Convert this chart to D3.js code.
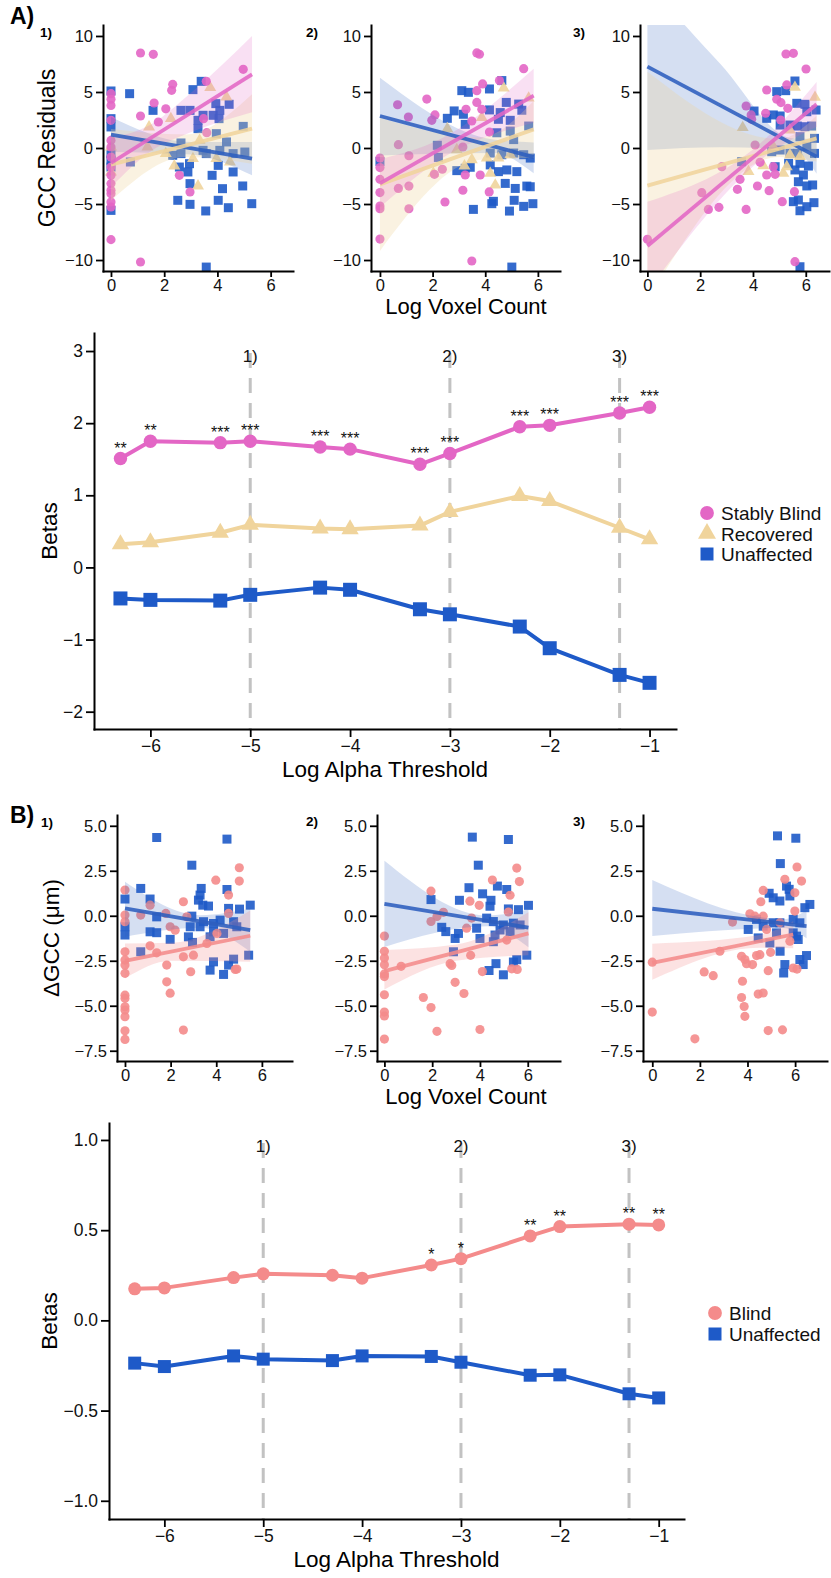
<!DOCTYPE html>
<html>
<head>
<meta charset="utf-8">
<script src="https://cdn.jsdelivr.net/npm/d3@7"></script>
<style>
  body { margin: 0; background: #fff; }
  svg { display: block; font-family: "Liberation Sans", Arial, Helvetica, sans-serif; }
</style>
</head>
<body>
<svg id="fig" width="831" height="1578"></svg>
<script>
const PINK = "#E366C5", TAN = "#F0D49C", BLUE = "#1E5AC8", SALMON = "#F48B8B";

// ---------- A) scatter panels : [log voxel count, GCC residual]
const a1Blind = [[0,4.85],[0,4.35],[0,3.8],[0,2.47],[0,0.68],[0,0.09],[0,-0.8],[0,-1.7],[0,-2.44],[0,-3.18],[0,-3.78],[0,-4.08],[0,-4.82],[0,-5.27],[0,-8.18],
  [1.11,8.48],[1.59,8.36],[4.97,7.02],[2.32,5.68],[2.28,5.15],[3.58,5.95],[1.62,4.02],[2.06,3.5],[1.11,2.86],[1.78,2.32],[3.48,2.62],[3.6,1.37],[1.11,-10.18],[2.57,-2.44],[2.97,-3.93]];
const a1Recov = [[3.73,5.39],[4.34,4.55],[1.43,1.88],[2.25,2.62],[0,0.09],[0,-2.14],[1.37,0.09],[2.38,-1.6],[3.27,-3.39],[3.08,-0.95],[3.96,-0.95],[4.47,-1.25],[3.33,0.68],[2.06,-0.5]];
const a1Unaff = [[0,5.09],[0.7,4.85],[0,2.62],[0,1.88],[0,-0.5],[0,-1.1],[0,-1.7],[0,-5.57],[0.73,-1.25],[3.39,5.95],[3.08,5.21],[1.58,3.36],[2.63,3.36],[2.97,3.36],[3.27,2.47],[3.27,1.73],[3.94,3.96],[4.44,3.9],[4.09,3.36],[4.06,2.62],[3.84,2.92],[3.46,2.92],[4.97,1.93],[3.96,1.28],[4.34,0.54],[2.63,0.45],[2.32,-0.65],[2.63,-0.5],[3.46,-0.21],[3.58,-0.5],[4.09,-0.21],[4.59,-0.5],[5.03,-0.36],[2.57,-1.7],[2.89,-2.14],[2.95,-1.4],[4.03,-1.55],[4.59,-2.14],[3.8,-2.44],[2.97,-3.18],[4.95,-3.39],[4.19,-3.63],[2.51,-4.67],[2.97,-5.03],[4.03,-4.67],[4.41,-5.33],[5.29,-4.97],[3.56,-5.62],[3.58,-10.63]];

const a2Blind = [[3.68,8.49],[3.78,8.37],[5.46,7.08],[4.54,6.02],[3.9,5.72],[3.68,5.12],[3.68,4.07],[1.78,4.37],[0.67,3.86],[1.08,2.77],[2.09,2.95],[1.97,2.47],[3.27,3.46],[3.87,3.46],[3.49,2.41],[0.7,0.3],[1.1,-0.69],[0,-0.9],[0,-1.75],[0,-2.8],[0,-3.98],[0,-5.18],[0,-5.42],[0,-8.13],[0.7,-3.61],[1.1,-3.4],[1.1,-5.42],[2.37,-1.9],[2.07,-2.35],[2.47,-4.82],[3.15,-3.77],[3.24,-2.41],[3.81,-2.41],[4.15,-3.92],[4.16,1.42],[3.49,-10.09],[3.15,0.09]];
const a2Recov = [[4.7,5.36],[5.65,4.46],[2.56,1.72],[3.87,2.71],[2.03,-2.26],[3.21,-1.6],[4.19,-2.26],[4.38,-3.31],[3.49,-1.05],[4.06,-0.9],[4.5,-0.9],[4.95,-0.6],[2.92,-0.15]];
const a2Unaff = [[0,-1.2],[4.63,6.02],[3.11,5.12],[3.36,4.97],[4.16,5.27],[2.56,2.65],[2.82,3.31],[3.17,3.01],[4.16,3.4],[4.8,4.07],[5.27,3.92],[5.39,3.37],[4.57,3.16],[4.5,2.56],[4.95,2.47],[5.65,1.96],[3.24,2.11],[4.95,1.51],[4.44,1.36],[5.08,0.75],[2.18,0.24],[2.22,-0.84],[2.92,-2.02],[3.24,-1.81],[3.43,-1.72],[4.19,-0.45],[4.19,-1.51],[4.63,-0.6],[5.08,-0.45],[5.46,-0.6],[5.71,-0.9],[4.5,-2.11],[4.82,-1.96],[5.2,-2.11],[4.76,-3.16],[5.14,-3.61],[5.58,-3.4],[5.71,-3.46],[3.55,-5.48],[4.25,-4.97],[4.31,-4.76],[4.92,-5.63],[5.1,-4.67],[5.46,-5.21],[5.81,-4.97],[5.01,-10.63]];

const a3Blind = [[5.25,8.39],[5.53,8.45],[6.01,7.05],[4.52,5.18],[5.28,5.63],[4.9,4.35],[5.06,4.05],[5.32,3.54],[3.74,3.75],[3.93,2.95],[3.95,2.56],[4.48,3.1],[4.08,0.27],[5.05,2.5],[0,-8.15],[2.06,-3.99],[2.31,-5.48],[2.71,-5.3],[3.41,-3.69],[3.51,-2.8],[3.74,-5.48],[4.17,-3.39],[4.61,-3.81],[5.11,-4.79],[5.57,-3.9],[4.27,-1.28],[4.52,-2.41],[4.84,-2.35],[4.77,-1.67],[5.59,-10.15],[2.82,-1.67]];
const a3Recov = [[5.59,5.42],[6.35,4.52],[3.61,1.82],[3.83,-2.11],[4.39,-1.58],[5.15,-2.26],[4.77,0.12],[5.4,-0.62],[5.78,-0.77],[5.28,-1.67],[5.4,1.6]];
const a3Unaff = [[5.24,5.12],[5.59,5.98],[4.9,5.03],[4.04,3.3],[4.52,2.65],[4.77,2.95],[5.03,2.86],[5.66,3.99],[5.97,3.9],[6.39,3.39],[6.04,3.24],[5.4,2.05],[5.68,1.96],[5.97,1.9],[6.22,1.96],[5.03,2.05],[6.33,0.86],[5.78,1.01],[4.71,-0.33],[5.03,-0.18],[5.4,-0.48],[5.68,-0.48],[6.04,0.12],[6.33,-0.48],[4.84,-1.67],[5.35,-1.37],[5.78,-1.37],[6.1,-1.61],[5.59,-1.96],[5.91,-2.41],[5.72,-3.01],[6.04,-3.39],[6.26,-3.3],[5.53,-4.79],[5.72,-4.64],[5.78,-5.6],[6.04,-5.24],[6.31,-4.88],[5.78,-10.6],[3.57,-1.22]];

// fitted lines [x,y] and confidence bands [x, lower, upper]
const a1BlindFit = [[0,-1.34],[5.3,6.58]];
const a1BlindBand = [[0,-3.5,0.9],[1.5,-0.3,2.1],[3,1.4,4.9],[5.3,3.2,10.0]];
const a1RecovFit = [[0,-1.49],[5.3,1.73]];
const a1RecovBand = [[0,-4.7,1.7],[2.8,-0.8,1.2],[5.3,-1.4,4.8]];
const a1UnaffFit = [[0,1.19],[5.3,-0.95]];
const a1UnaffBand = [[0,-0.36,2.77],[3,-0.57,0.53],[5.3,-2.44,0.54]];

const a2BlindFit = [[0,-3.16],[5.84,4.67]];
const a2BlindBand = [[0,-5.3,-1.0],[2.3,-1.0,0.8],[5.84,2.26,7.08]];
const a2RecovFit = [[0,-3.25],[5.84,1.66]];
const a2RecovBand = [[0,-9.2,2.7],[3.8,-1.06,0.94],[5.84,-0.9,4.2]];
const a2UnaffFit = [[0,2.86],[5.84,-0.81]];
const a2UnaffBand = [[0,-0.66,6.27],[4.3,-0.44,0.76],[5.84,-2.26,0.5]];

const a3BlindFit = [[0,-8.75],[6.41,3.9]];
const a3BlindBand = [[0,-12.8,-4.8],[4.5,-0.7,0.9],[6.41,1.9,5.9]];
const a3RecovFit = [[0,-3.36],[6.41,0.86]];
const a3RecovBand = [[0,-13.5,6.8],[5,-0.8,0.8],[6.41,-1.2,2.9]];
const a3UnaffFit = [[0,7.26],[6.41,-0.77]];
const a3UnaffBand = [[0,-0.18,14.7],[2.75,0.07,7.55],[5.5,-0.13,0.87],[6.41,-2.3,0.8]];

// ---------- B) scatter panels : [log voxel count, delta GCC]
const b1Blind = [[0,1.43],[0,0.04],[0,-0.33],[0,-2.0],[0,-2.46],[0,-2.74],[0,-3.2],[0,-4.41],[0,-4.59],[0,-5.06],[0,-5.24],[0,-5.61],[0,-6.39],[0,-6.87],[0.69,0.04],[1.1,0.59],[1.1,-1.67],[1.39,-2.06],[1.79,0.13],[1.83,-2.74],[1.83,-3.67],[1.98,-4.3],[1.98,-0.61],[2.2,-0.8],[2.56,0.78],[2.56,-2.28],[2.56,-6.35],[3.0,-2.19],[2.88,-3.11],[3.98,1.98],[4.54,1.15],[4.54,0.13],[5.01,2.67],[5.01,1.93],[4.83,-2.98],[4.9,-2.96],[3.59,-1.54],[4.03,-0.98],[2.71,-0.06]];
const b1Unaff = [[1.39,4.35],[4.47,4.26],[2.93,2.81],[0,0.93],[0,-0.61],[0,-1.07],[0.69,1.52],[1.1,0.93],[1.39,-0.06],[1.1,-0.89],[1.39,-0.94],[0.69,-2.0],[1.98,-1.31],[2.93,-0.02],[3.29,1.15],[3.34,1.52],[3.41,0.59],[3.22,0.87],[3.66,0.54],[4.47,1.46],[4.54,0.41],[5.02,0.37],[5.49,0.59],[5.42,-2.19],[2.86,-0.61],[2.78,-1.17],[2.96,-1.48],[3.44,-0.33],[3.88,-0.43],[4.17,-0.24],[4.76,-0.33],[4.9,-0.61],[4.32,-0.98],[3.73,-1.17],[3.88,-0.89],[3.73,-3.02],[3.88,-2.56],[4.32,-3.26],[4.54,-2.74],[4.76,-2.41],[3.29,-0.61]];

const b2Blind = [[0,-1.13],[0,-1.97],[0,-2.35],[0,-2.72],[0,-3.23],[0,-3.38],[0,-4.39],[0,-5.35],[0,-5.57],[0,-6.85],[0.7,-2.81],[1.95,1.37],[1.95,-0.32],[2.47,0.19],[2.2,-0.04],[1.63,-4.54],[1.95,-5.1],[2.2,-6.42],[2.75,-2.66],[2.82,-2.76],[2.96,-3.7],[3.33,-4.32],[4.0,-6.32],[3.58,0.81],[3.97,0.58],[3.65,-0.13],[3.61,-2.2],[4.1,-3.1],[4.52,1.99],[5.26,1.14],[5.19,0.21],[5.54,2.65],[5.65,1.9],[5.33,-2.95],[5.56,-2.98],[5.12,-1.35],[3.44,-0.69]];
const b2Unaff = [[3.68,4.37],[5.19,4.24],[3.93,2.81],[1.95,0.9],[3.14,0.86],[3.54,1.56],[4.11,1.22],[4.73,1.65],[5.12,1.46],[4.46,0.86],[4.42,0.53],[5.19,0.38],[5.61,0.34],[6.03,0.58],[5.96,-2.19],[5.54,-2.44],[4.28,-0.13],[4.56,-0.32],[4.98,-0.51],[5.4,-0.41],[5.68,-0.51],[4.84,-0.79],[5.26,-0.88],[2.4,-0.64],[2.57,-0.88],[2.96,-1.26],[2.89,-2.0],[3.1,-0.98],[3.86,-0.69],[4.0,-1.26],[4.56,-1.44],[4.63,-1.07],[4.38,-3.04],[4.67,-2.66],[4.98,-3.28],[5.4,-2.57]];

const b3Blind = [[0,-2.58],[0,-5.35],[1.79,-6.84],[2.18,-3.12],[2.56,-3.33],[2.84,-1.97],[3.37,-0.35],[3.75,-2.25],[3.89,-2.43],[3.96,-2.66],[4.21,-2.71],[3.79,-3.64],[3.75,-4.54],[3.86,-5.04],[3.89,-5.59],[4.38,-2.21],[4.52,-2.16],[4.45,-4.35],[4.66,-4.29],[4.87,-3.05],[4.97,-2.03],[4.87,-6.38],[5.47,-6.34],[4.1,0.11],[4.31,-0.02],[4.66,-0.02],[4.56,0.78],[4.66,1.41],[5.57,2.03],[5.99,1.28],[6.08,2.71],[6.27,1.93],[5.99,0.26],[5.78,-1.41],[5.92,-2.9],[6.08,-2.96],[4.8,-0.76],[5.36,-0.39]];
const b3Unaff = [[5.26,4.44],[6.03,4.31],[5.38,2.9],[4.91,1.25],[5.08,1.0],[5.36,0.82],[5.78,1.1],[5.64,1.65],[5.75,1.47],[6.62,0.63],[6.41,0.45],[4.03,-0.76],[4.38,-0.2],[4.66,-0.58],[5.08,-0.39],[5.36,-0.39],[5.92,-0.2],[6.2,-0.39],[5.22,-0.95],[5.92,-0.95],[6.06,-1.13],[6.13,-1.32],[5.37,-1.97],[5.57,-2.71],[5.52,-3.18],[6.2,-2.43],[6.48,-2.21],[6.34,-2.71],[4.45,-1.23],[4.94,-1.51]];

const b1BlindFit = [[0,-2.5],[5.49,-1.11]];
const b1BlindBand = [[0,-3.48,-1.54],[2,-2.5,-1.5],[5.49,-2.56,0.3]];
const b1UnaffFit = [[0,0.41],[5.49,-0.8]];
const b1UnaffBand = [[0,-1.17,1.89],[3.3,-0.67,0.03],[5.49,-2.0,0.4]];
const b2BlindFit = [[0,-3.08],[6.03,-0.98]];
const b2BlindBand = [[0,-4.1,-1.9],[3,-2.5,-1.6],[6.03,-2.2,0.2]];
const b2UnaffFit = [[0,0.66],[6.03,-0.66]];
const b2UnaffBand = [[0,-1.73,3.06],[4.3,-0.58,0.02],[6.03,-1.75,0.35]];
const b3BlindFit = [[0,-2.62],[5.92,-1.04]];
const b3BlindBand = [[0,-3.55,-1.55],[4.5,-1.77,-1.07],[5.92,-1.8,-0.3]];
const b3UnaffFit = [[0,0.39],[6.48,-0.58]];
const b3UnaffBand = [[0,-1.13,1.99],[5.5,-0.68,-0.18],[6.48,-1.25,0.3]];

// ---------- line charts
const alphaX = [-6.3,-6,-5.3,-5,-4.3,-4,-3.3,-3,-2.3,-2,-1.3,-1];
const betaStablyBlind = [1.51,1.75,1.73,1.75,1.67,1.64,1.43,1.58,1.95,1.97,2.14,2.22];
const betaRecovered = [0.32,0.35,0.48,0.59,0.54,0.53,0.58,0.77,0.99,0.92,0.55,0.39];
const betaUnaffectedA = [-0.43,-0.45,-0.46,-0.38,-0.28,-0.31,-0.58,-0.65,-0.82,-1.12,-1.49,-1.60];
const starsA = ["**","**","***","***","***","***","***","***","***","***","***","***"];
const betaBlind = [0.175,0.18,0.237,0.258,0.25,0.234,0.307,0.342,0.468,0.52,0.533,0.529];
const betaUnaffectedB = [-0.237,-0.256,-0.197,-0.215,-0.223,-0.197,-0.2,-0.232,-0.304,-0.302,-0.407,-0.43];
const starsB = ["","","","","","","*","*","**","**","**","**"];
const markerX = [-5,-3,-1.3];
const markerLabels = ["1)","2)","3)"];

const svg = d3.select("#fig");

function symbolPath(shape, size) {
  let t = d3.symbolCircle;
  if (shape == "square") t = d3.symbolSquare;
  if (shape == "triangle") t = d3.symbolTriangle;
  return d3.symbol().type(t).size(size)();
}

function styleAxis(sel, fs) {
  sel.attr("font-size", fs).attr("font-family", null);
  sel.select(".domain").attr("stroke", "#000").attr("stroke-width", 2).attr("stroke-linecap", "square");
  sel.selectAll(".tick line").attr("stroke", "#000").attr("stroke-width", 1.8);
  sel.selectAll(".tick text").attr("fill", "#111");
}

function scatterPanel(p) {
  let x = d3.scaleLinear().domain(p.xdom).range([p.left, p.right]);
  let y = d3.scaleLinear().domain(p.ydom).range([p.bottom, p.top]);

  svg.append("clipPath").attr("id", "clip" + p.id)
    .append("rect").attr("x", p.left).attr("y", p.top)
    .attr("width", p.right - p.left).attr("height", p.bottom - p.top);
  let g = svg.append("g").attr("clip-path", "url(#clip" + p.id + ")");

  p.groups.forEach(gr => {
    g.selectAll(null).data(gr.pts).join("path")
      .attr("transform", d => "translate(" + x(d[0]) + "," + y(d[1]) + ")")
      .attr("d", symbolPath(gr.shape, gr.size))
      .attr("fill", gr.color).attr("fill-opacity", 0.9);
  });

  // confidence bands then regression lines
  let area = d3.area().x(d => x(d[0])).y0(d => y(d[1])).y1(d => y(d[2])).curve(d3.curveMonotoneX);
  p.fits.forEach(f => {
    g.append("path").datum(f.band).attr("d", area)
      .attr("fill", f.color).attr("fill-opacity", f.alpha);
  });
  let line = d3.line().x(d => x(d[0])).y(d => y(d[1]));
  p.fits.forEach(f => {
    g.append("path").datum(f.line).attr("d", line)
      .attr("fill", "none").attr("stroke", f.color)
      .attr("stroke-width", 3.8).attr("stroke-opacity", 0.88);
  });

  svg.append("g").attr("transform", "translate(0," + p.bottom + ")")
    .call(d3.axisBottom(x).tickValues([0, 2, 4, 6]).tickFormat(d3.format("d"))
      .tickSize(6).tickSizeOuter(0).tickPadding(2))
    .call(s => styleAxis(s, 16.5));
  svg.append("g").attr("transform", "translate(" + p.left + ",0)")
    .call(d3.axisLeft(y).tickValues(p.yticks).tickFormat(p.yfmt)
      .tickSize(7).tickSizeOuter(0).tickPadding(3))
    .call(s => styleAxis(s, 16.5));

  svg.append("text").attr("x", p.tagX).attr("y", p.tagY)
    .attr("font-size", 13.5).attr("font-weight", "bold").text(p.tag);
}

function lineChart(c) {
  let x = d3.scaleLinear().domain(c.xdom).range([c.left, c.right]);
  let y = d3.scaleLinear().domain(c.ydom).range([c.bottom, c.top]);

  // threshold markers
  svg.append("g").selectAll("line").data(markerX).join("line")
    .attr("x1", d => x(d)).attr("x2", d => x(d))
    .attr("y1", c.dashTop).attr("y2", c.bottom)
    .attr("stroke", "#C2C2C2").attr("stroke-width", 3).attr("stroke-dasharray", "15,10");
  svg.append("g").selectAll("text").data(markerX).join("text")
    .attr("x", d => x(d)).attr("y", c.labelY).attr("text-anchor", "middle")
    .attr("font-size", 17).attr("fill", "#111")
    .text((d, i) => markerLabels[i]);

  c.series.forEach(s => {
    let pts = alphaX.map((a, i) => [a, s.values[i]]);
    svg.append("path").datum(pts)
      .attr("d", d3.line().x(d => x(d[0])).y(d => y(d[1])))
      .attr("fill", "none").attr("stroke", s.color).attr("stroke-width", 4)
      .attr("stroke-linejoin", "round");
    svg.append("g").selectAll("path").data(pts).join("path")
      .attr("transform", d => "translate(" + x(d[0]) + "," + y(d[1]) + ")")
      .attr("d", symbolPath(s.shape, s.size)).attr("fill", s.color);
    if (s.stars) {
      svg.append("g").selectAll("text").data(pts).join("text")
        .attr("x", d => x(d[0])).attr("y", d => y(d[1]) - 5)
        .attr("text-anchor", "middle").attr("font-size", 16).attr("fill", "#111")
        .text((d, i) => s.stars[i]);
    }
  });

  svg.append("g").attr("transform", "translate(0," + c.bottom + ")")
    .call(d3.axisBottom(x).tickValues([-6, -5, -4, -3, -2, -1]).tickFormat(d3.format("d"))
      .tickSize(8).tickSizeOuter(0).tickPadding(3))
    .call(s => styleAxis(s, 17.5));
  svg.append("g").attr("transform", "translate(" + c.left + ",0)")
    .call(d3.axisLeft(y).tickValues(c.yticks).tickFormat(c.yfmt)
      .tickSize(8).tickSizeOuter(0).tickPadding(3))
    .call(s => styleAxis(s, 17.5));

  // legend
  c.series.forEach((s, i) => {
    let ly = c.legendY + i * c.legendStep;
    svg.append("path").attr("transform", "translate(" + c.legendX + "," + ly + ")")
      .attr("d", symbolPath(s.shape, s.legendSize)).attr("fill", s.color);
    svg.append("text").attr("x", c.legendX + 14).attr("y", ly + 7)
      .attr("font-size", 19).attr("fill", "#111").text(s.name);
  });

  svg.append("text").attr("x", (c.left + c.right) / 2).attr("y", c.bottom + 48)
    .attr("text-anchor", "middle").attr("font-size", 22.5).text("Log Alpha Threshold");
  svg.append("text").attr("transform", "translate(57," + (c.top + c.bottom) / 2 + ") rotate(-90)")
    .attr("text-anchor", "middle").attr("font-size", 22.5).text("Betas");
}

// ---------- build
const fmtInt = d3.format("d"), fmt1 = d3.format(".1f");
const aTicks = [-10, -5, 0, 5, 10], bTicks = [-7.5, -5, -2.5, 0, 2.5, 5];

function aGroups(bl, rc, un) {
  return [
    {pts: un, color: BLUE, shape: "square", size: 81},
    {pts: rc, color: TAN, shape: "triangle", size: 62},
    {pts: bl, color: PINK, shape: "circle", size: 66}
  ];
}
function aFits(bl, blB, rc, rcB, un, unB) {
  return [
    {line: un, band: unB, color: "#2E5FBE", alpha: 0.2},
    {line: rc, band: rcB, color: TAN, alpha: 0.3},
    {line: bl, band: blB, color: PINK, alpha: 0.2}
  ];
}
function bGroups(bl, un) {
  return [
    {pts: un, color: BLUE, shape: "square", size: 81},
    {pts: bl, color: SALMON, shape: "circle", size: 66}
  ];
}
function bFits(bl, blB, un, unB) {
  return [
    {line: un, band: unB, color: "#2E5FBE", alpha: 0.2},
    {line: bl, band: blB, color: SALMON, alpha: 0.25}
  ];
}

const aY = [-10.98, 10.98], bY = [-8.07, 5.6];
scatterPanel({id: "a1", left: 103, right: 293, top: 25, bottom: 271, xdom: [-0.3, 6.84], ydom: aY, yticks: aTicks, yfmt: fmtInt,
  tag: "1)", tagX: 40, tagY: 37, groups: aGroups(a1Blind, a1Recov, a1Unaff),
  fits: aFits(a1BlindFit, a1BlindBand, a1RecovFit, a1RecovBand, a1UnaffFit, a1UnaffBand)});
scatterPanel({id: "a2", left: 371, right: 560, top: 25, bottom: 271, xdom: [-0.34, 6.84], ydom: aY, yticks: aTicks, yfmt: fmtInt,
  tag: "2)", tagX: 306, tagY: 37, groups: aGroups(a2Blind, a2Recov, a2Unaff),
  fits: aFits(a2BlindFit, a2BlindBand, a2RecovFit, a2RecovBand, a2UnaffFit, a2UnaffBand)});
scatterPanel({id: "a3", left: 640, right: 829, top: 25, bottom: 271, xdom: [-0.28, 6.88], ydom: aY, yticks: aTicks, yfmt: fmtInt,
  tag: "3)", tagX: 573, tagY: 37, groups: aGroups(a3Blind, a3Recov, a3Unaff),
  fits: aFits(a3BlindFit, a3BlindBand, a3RecovFit, a3RecovBand, a3UnaffFit, a3UnaffBand)});

scatterPanel({id: "b1", left: 117, right: 292, top: 815, bottom: 1061, xdom: [-0.35, 7.32], ydom: bY, yticks: bTicks, yfmt: fmt1,
  tag: "1)", tagX: 41, tagY: 827, groups: bGroups(b1Blind, b1Unaff), fits: bFits(b1BlindFit, b1BlindBand, b1UnaffFit, b1UnaffBand)});
scatterPanel({id: "b2", left: 377, right: 560, top: 815, bottom: 1061, xdom: [-0.31, 7.35], ydom: bY, yticks: bTicks, yfmt: fmt1,
  tag: "2)", tagX: 306, tagY: 826, groups: bGroups(b2Blind, b2Unaff), fits: bFits(b2BlindFit, b2BlindBand, b2UnaffFit, b2UnaffBand)});
scatterPanel({id: "b3", left: 643, right: 827, top: 815, bottom: 1061, xdom: [-0.39, 7.34], ydom: bY, yticks: bTicks, yfmt: fmt1,
  tag: "3)", tagX: 573, tagY: 826, groups: bGroups(b3Blind, b3Unaff), fits: bFits(b3BlindFit, b3BlindBand, b3UnaffFit, b3UnaffBand)});

lineChart({left: 94, right: 676, top: 333, bottom: 729, xdom: [-6.565, -0.735], ydom: [-2.24, 3.25],
  yticks: [-2, -1, 0, 1, 2, 3], yfmt: fmtInt, dashTop: 353, labelY: 362,
  legendX: 707, legendY: 513, legendStep: 20.5,
  series: [
    {name: "Stably Blind", values: betaStablyBlind, color: PINK, shape: "circle", size: 141, legendSize: 150, stars: starsA},
    {name: "Recovered", values: betaRecovered, color: TAN, shape: "triangle", size: 130, legendSize: 140},
    {name: "Unaffected", values: betaUnaffectedA, color: BLUE, shape: "square", size: 196, legendSize: 169}
  ]});

lineChart({left: 109, right: 684, top: 1123, bottom: 1519, xdom: [-6.56, -0.744], ydom: [-1.101, 1.094],
  yticks: [-1, -0.5, 0, 0.5, 1], yfmt: fmt1, dashTop: 1143, labelY: 1152,
  legendX: 715, legendY: 1313, legendStep: 21,
  series: [
    {name: "Blind", values: betaBlind, color: SALMON, shape: "circle", size: 133, legendSize: 150, stars: starsB},
    {name: "Unaffected", values: betaUnaffectedB, color: BLUE, shape: "square", size: 169, legendSize: 169}
  ]});

// titles and shared axis labels
svg.append("text").attr("x", 10).attr("y", 24).attr("font-size", 23).attr("font-weight", "bold").text("A)");
svg.append("text").attr("x", 10).attr("y", 823).attr("font-size", 23).attr("font-weight", "bold").text("B)");
svg.append("text").attr("transform", "translate(55,148) rotate(-90)").attr("text-anchor", "middle")
  .attr("font-size", 23).text("GCC Residuals");
svg.append("text").attr("transform", "translate(59,938) rotate(-90)").attr("text-anchor", "middle")
  .attr("font-size", 22.5).text("ΔGCC (μm)");
svg.append("text").attr("x", 466).attr("y", 314).attr("text-anchor", "middle").attr("font-size", 22).text("Log Voxel Count");
svg.append("text").attr("x", 466).attr("y", 1104).attr("text-anchor", "middle").attr("font-size", 22).text("Log Voxel Count");
</script>
</body>
</html>
